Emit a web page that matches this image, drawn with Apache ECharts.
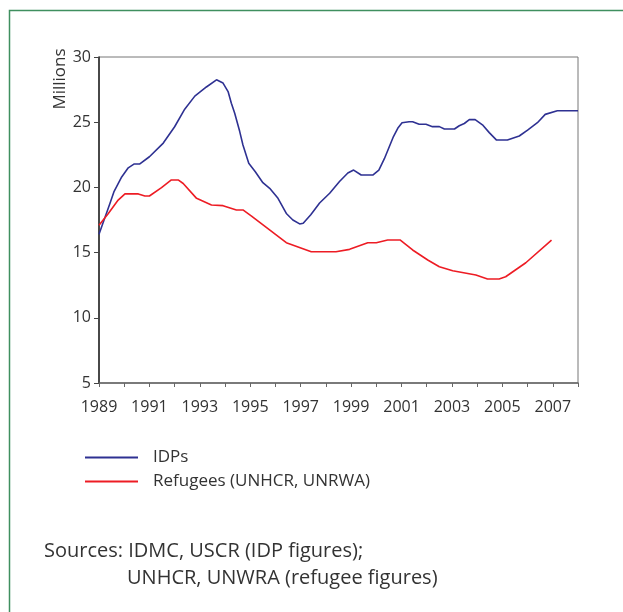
<!DOCTYPE html>
<html><head><meta charset="utf-8">
<script src="https://cdn.jsdelivr.net/npm/echarts@6/dist/echarts.min.js"></script>
<style>html,body{margin:0;padding:0;background:#fff}#c{width:623px;height:612px}</style>
</head><body><div id="c"></div>
<script>
const idpYears = [1989.0,1989.44,1989.6,1989.9,1990.16,1990.4,1990.62,1991.0,1991.55,1992.0,1992.4,1992.8,1993.26,1993.66,1993.92,1994.12,1994.25,1994.38,1994.58,1994.71,1994.94,1995.2,1995.5,1995.77,1996.1,1996.43,1996.69,1996.96,1997.1,1997.4,1997.75,1998.15,1998.54,1998.87,1999.1,1999.4,1999.86,2000.1,2000.32,2000.49,2000.68,2000.85,2001.02,2001.3,2001.44,2001.7,2001.97,2002.23,2002.5,2002.7,2003.1,2003.29,2003.49,2003.69,2003.92,2004.21,2004.48,2004.77,2005.2,2005.67,2006.0,2006.39,2006.7,2007.18,2008.0];
const idpValues = [16.4,18.8,19.7,20.8,21.5,21.8,21.8,22.35,23.4,24.65,26.0,27.0,27.7,28.25,28.0,27.35,26.45,25.7,24.3,23.25,21.85,21.2,20.36,19.93,19.16,18.0,17.5,17.2,17.25,17.9,18.8,19.55,20.45,21.1,21.33,20.95,20.95,21.33,22.2,23.0,23.9,24.53,24.96,25.04,25.04,24.84,24.84,24.66,24.66,24.48,24.48,24.73,24.9,25.2,25.2,24.8,24.2,23.63,23.63,23.94,24.4,24.96,25.6,25.88,25.88];
const refYears = [1989.0,1989.37,1989.76,1990.03,1990.56,1990.82,1991.0,1991.48,1991.87,1992.14,1992.34,1992.87,1993.46,1993.92,1994.45,1994.71,1995.05,1996.43,1997.42,1998.4,1998.94,1999.66,2000.0,2000.45,2000.94,2001.44,2002.04,2002.5,2003.03,2003.95,2004.41,2004.87,2005.13,2005.93,2006.95];
const refValues = [17.1,18.0,19.03,19.5,19.5,19.34,19.34,19.98,20.57,20.57,20.3,19.16,18.65,18.6,18.27,18.27,17.8,15.76,15.07,15.07,15.25,15.76,15.76,15.97,15.97,15.2,14.43,13.92,13.61,13.28,12.98,12.98,13.15,14.22,15.95];
const seriesNames = ['IDPs','Refugees (UNHCR, UNRWA)'];
const sourceLines = ['Sources: IDMC, USCR (IDP figures);','UNHCR, UNWRA (refugee figures)'];
const yAxisName = 'Millions';

const zip = (xs, ys) => xs.map((x, i) => [x, ys[i]]);
const font = '"Open Sans", Lato, sans-serif';
const chart = echarts.init(document.getElementById('c'), null, {renderer: 'canvas'});
chart.setOption({
  animation: false,
  backgroundColor: '#fff',
  grid: {left: 99, right: 45, top: 57, bottom: 229, show: true, borderColor: '#777', borderWidth: 1, backgroundColor: 'transparent'},
  xAxis: {
    type: 'value', min: 1989, max: 2008, interval: 1,
    axisLine: {show: true, lineStyle: {color: '#666', width: 1.5}},
    axisTick: {show: true, inside: false, length: 4, lineStyle: {color: '#666'}},
    axisLabel: {color: '#333', fontSize: 16, fontFamily: font, margin: 16,
      formatter: v => ((v - 1989) % 2 === 0 ? String(v) : '')},
    splitLine: {show: false}
  },
  yAxis: {
    type: 'value', min: 5, max: 30, interval: 5,
    axisLine: {show: true, lineStyle: {color: '#222', width: 1.5}},
    axisTick: {show: true, inside: false, length: 5, lineStyle: {color: '#444'}},
    axisLabel: {color: '#333', fontSize: 16, fontFamily: font, margin: 8},
    splitLine: {show: false}
  },
  legend: {
    orient: 'vertical', left: 80, top: 444, itemWidth: 53, itemHeight: 2, itemGap: 7,
    icon: 'rect',
    textStyle: {fontSize: 17, fontFamily: font, color: '#333', padding: [0, 0, 0, 10]},
    data: seriesNames
  },
  series: [
    {name: seriesNames[0], type: 'line', data: zip(idpYears, idpValues), showSymbol: false,
      lineStyle: {color: '#2e3192', width: 1.6}, itemStyle: {color: '#2e3192'}},
    {name: seriesNames[1], type: 'line', data: zip(refYears, refValues), showSymbol: false,
      lineStyle: {color: '#ed1c24', width: 1.6}, itemStyle: {color: '#ed1c24'}}
  ],
  graphic: [
    {type: 'rect', shape: {x: 9.5, y: 10.5, width: 800, height: 800}, style: {fill: 'none', stroke: '#3f8f5f', lineWidth: 1.5}, silent: true},
    {type: 'text', x: 60, y: 79, rotation: Math.PI / 2, style: {text: yAxisName, fontSize: 17, fontFamily: font, fill: '#333', align: 'center', verticalAlign: 'middle'}},
    {type: 'text', x: 44, y: 551, style: {text: sourceLines[0], fontSize: 20, fontFamily: font, fill: '#333', verticalAlign: 'middle'}},
    {type: 'text', x: 127, y: 578, style: {text: sourceLines[1], fontSize: 20, fontFamily: font, fill: '#333', verticalAlign: 'middle'}}
  ]
});
</script></body></html>
